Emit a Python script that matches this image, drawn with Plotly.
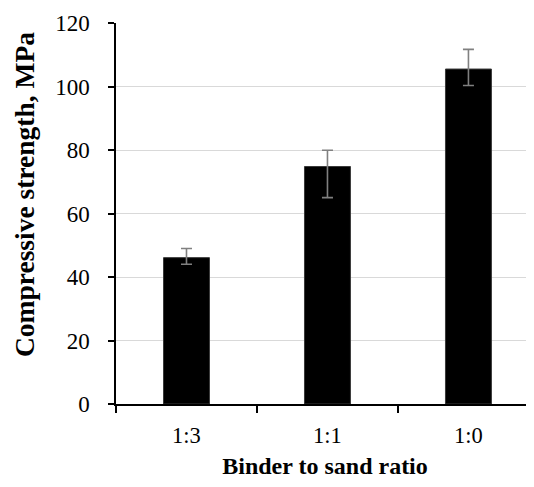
import plotly.graph_objects as go

categories = ["1:3", "1:1", "1:0"]
strength = [46.1, 74.8, 105.5]
err_plus = [2.9, 5.1, 6.2]
err_minus = [2.1, 9.8, 5.2]
y_ticks = [0, 20, 40, 60, 80, 100, 120]

FONT = "Liberation Serif, Times New Roman, serif"

# page body has an 8px margin, so the figure is shrunk/shifted accordingly
fig = go.Figure()
fig.add_trace(go.Bar(
    x=categories,
    y=strength,
    width=0.326,
    marker=dict(color="black", line=dict(color="#3a3a3a", width=1)),
    error_y=dict(type="data", symmetric=False, array=err_plus, arrayminus=err_minus,
                 color="#808080", thickness=1.6, width=5.5),
))

fig.update_layout(
    width=526, height=479,
    margin=dict(l=108, r=0, t=15, b=83, pad=0),
    paper_bgcolor="white", plot_bgcolor="white",
    showlegend=False,
    font=dict(family=FONT, color="black", size=22),
    xaxis=dict(
        type="category",
        range=[-0.5, 2.465],
        showline=True, linecolor="black", linewidth=2,
        ticks="outside", tickson="boundaries", ticklen=7, tickwidth=1.5, tickcolor="black",
        ticklabelstandoff=10,
        tickfont=dict(size=22.5, family=FONT),
        showgrid=False,
        title=dict(text="<b>Binder to sand ratio</b>", font=dict(size=24, family=FONT), standoff=10),
    ),
    yaxis=dict(
        range=[0, 120],
        tickvals=y_ticks,
        showline=True, linecolor="black", linewidth=1.5,
        ticks="outside", ticklen=6, tickwidth=1.5, tickcolor="black",
        ticklabelstandoff=14,
        tickfont=dict(size=23, family=FONT),
        showgrid=True, gridcolor="#d9d9d9", gridwidth=1.2,
        zeroline=False,
    ),
    annotations=[dict(
        text="<b>Compressive strength, MPa</b>",
        xref="paper", yref="paper",
        x=-0.2175, y=0.5486,
        xanchor="center", yanchor="middle",
        textangle=-90, showarrow=False,
        font=dict(size=27.5, family=FONT, color="black"),
    )],
)

fig.write_html("out.html")
